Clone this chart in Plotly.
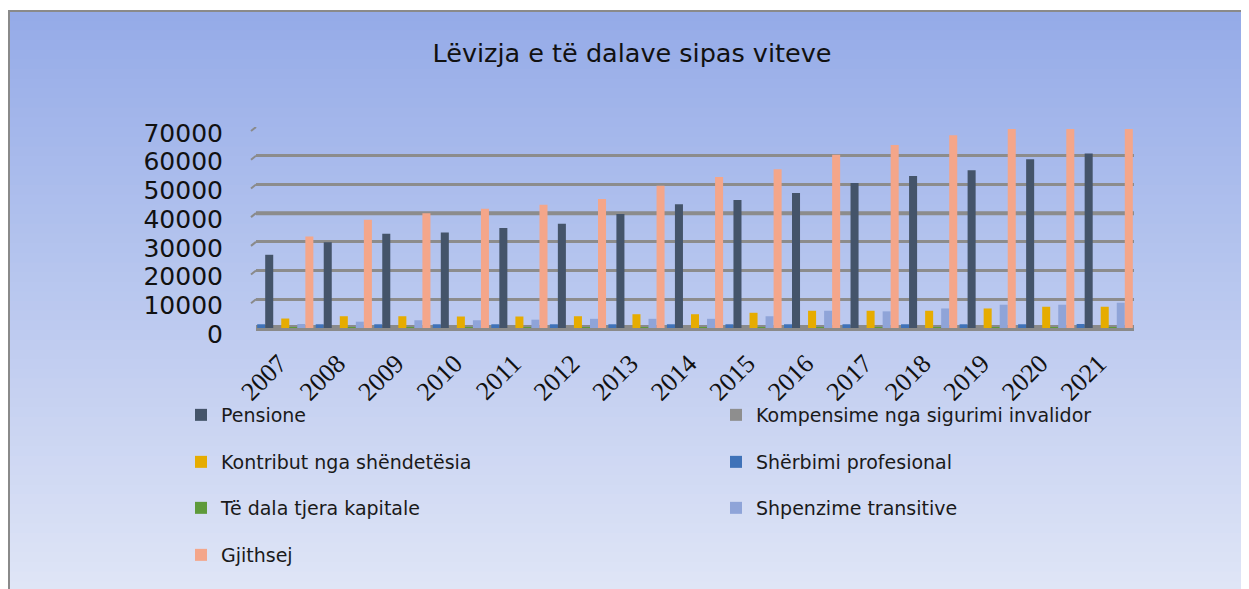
import plotly.graph_objects as go

years = ["2007", "2008", "2009", "2010", "2011", "2012", "2013", "2014",
         "2015", "2016", "2017", "2018", "2019", "2020", "2021"]

pensione = [25500, 29900, 32800, 33300, 34800, 36300, 39700, 43100,
            44600, 47000, 50500, 52900, 54900, 58800, 60800]
kompensime = [0, 0, 0, 0, 0, 0, 0, 0, 0, 0, 0, 0, 0, 0, 0]
kontribut = [3300, 4100, 4100, 4000, 4000, 4100, 4800, 4800,
             5300, 6000, 6000, 6000, 6800, 7400, 7400]
sherbimi = [1300, 1300, 1300, 1300, 1300, 1300, 1300, 1300,
            1300, 1300, 1300, 1300, 1300, 1300, 1400]
te_dala = [300, 300, 300, 300, 300, 300, 300, 300,
           300, 300, 300, 300, 300, 300, 300]
shpenzime = [1400, 2200, 2700, 2700, 2900, 3200, 3200, 3200,
             4100, 6000, 5800, 6800, 8100, 8100, 8800]
gjithsej = [31900, 37700, 40000, 41500, 42900, 44900, 49500, 52600,
            55300, 60300, 63700, 67100, 69300, 69300, 69300]

y_ticks = [0, 10000, 20000, 30000, 40000, 50000, 60000, 70000]

# (name, values, colour, legend rank) in bar drawing order
series = [
    ("Shërbimi profesional", sherbimi, "#3F72B8", 4),
    ("Pensione", pensione, "#44546A", 1),
    ("Kompensime nga sigurimi invalidor", kompensime, "#8E8E8E", 2),
    ("Kontribut nga shëndetësia", kontribut, "#E6AC00", 3),
    ("Të dala tjera kapitale", te_dala, "#5E9A3A", 5),
    ("Shpenzime transitive", shpenzime, "#8FA4D8", 6),
    ("Gjithsej", gjithsej, "#F4A68A", 7),
]

# figure geometry (pixels); page body adds an 8px offset on screen
W, H = 1260, 581
OFF = 8
L, T = 248, 119
PW, PH = 878, 201
R, B = W - L - PW, H - T - PH


def px2x(sx):
    return (sx - OFF - L) / PW


def py2y(sy):
    return (H - B - (sy - OFF)) / PH


legend_pos = {
    1: (181, 415), 2: (716, 415),
    3: (181, 462), 4: (716, 462),
    5: (181, 508), 6: (716, 508),
    7: (181, 555),
}

fig = go.Figure()
for name, vals, col, rank in series:
    lg = "legend" if rank == 1 else f"legend{rank}"
    fig.add_trace(go.Bar(
        x=years, y=vals, name=name,
        marker=dict(color=col, line=dict(width=0)),
        legend=lg, showlegend=True,
    ))

# background gradient and frame
shapes = []
n_bands = 60
top_c = (149, 171, 232)
bot_c = (223, 229, 246)
y_top, y_bot = 11, H + OFF + 2
for i in range(n_bands):
    t = i / (n_bands - 1)
    c = tuple(int(round(top_c[k] + (bot_c[k] - top_c[k]) * t)) for k in range(3))
    p0 = y_top + (y_bot - y_top) * i / n_bands
    p1 = y_top + (y_bot - y_top) * (i + 1) / n_bands + 1
    shapes.append(dict(type="rect", xref="paper", yref="paper",
                       x0=px2x(9), x1=px2x(W + OFF + 2), y0=py2y(p1), y1=py2y(p0),
                       fillcolor=f"rgb{c}", line=dict(width=0), layer="below"))
shapes.append(dict(type="line", xref="paper", yref="paper",
                   x0=px2x(8), x1=px2x(W + OFF + 2), y0=py2y(11), y1=py2y(11),
                   line=dict(color="#8A8A8A", width=2), layer="below"))
shapes.append(dict(type="line", xref="paper", yref="paper",
                   x0=px2x(9), x1=px2x(9), y0=py2y(11), y1=py2y(H + OFF + 2),
                   line=dict(color="#8A8A8A", width=2), layer="below"))
# emphasised 40000 gridline
shapes.append(dict(type="line", xref="paper", yref="y",
                   x0=0, x1=1, y0=40000, y1=40000,
                   line=dict(color="#8A8A8A", width=4), layer="below"))
# small perspective stubs at the left end of each gridline
stub_dy = 4 * 70000 / PH
for v in y_ticks[1:]:
    shapes.append(dict(type="line", xref="paper", yref="y",
                       x0=px2x(251), x1=0, y0=v - stub_dy, y1=v,
                       line=dict(color="#8A8A8A", width=2), layer="above"))

layout_legends = {}
for rank, (lx, ly) in legend_pos.items():
    key = "legend" if rank == 1 else f"legend{rank}"
    layout_legends[key] = dict(
        x=px2x(lx), y=py2y(ly), xanchor="left", yanchor="middle",
        bgcolor="rgba(0,0,0,0)", itemwidth=30,
        font=dict(family="DejaVu Sans", size=19, color="#1a1a1a"),
    )

fig.update_layout(
    width=W, height=H,
    margin=dict(l=L, r=R, t=T, b=B),
    paper_bgcolor="white",
    plot_bgcolor="rgba(0,0,0,0)",
    showlegend=True,
    barmode="group", bargap=0.04, bargroupgap=0,
    title=dict(text="Lëvizja e të dalave sipas viteve",
               x=px2x(632), xref="paper", xanchor="center",
               y=1 - (53 - OFF) / H, yanchor="middle",
               font=dict(family="DejaVu Sans", size=25.5, color="#111111")),
    shapes=shapes,
    xaxis=dict(
        tickangle=-45, showgrid=False, showline=False, ticks="",
        tickfont=dict(family="Liberation Serif", size=26, color="#111111"),
        ticklabelstandoff=14, ticklabelshift=-6,
    ),
    yaxis=dict(
        range=[0, 70000], tickvals=y_ticks, ticktext=[str(v) for v in y_ticks],
        showgrid=True, gridcolor="#8C8C8C", gridwidth=2.5,
        zeroline=True, zerolinecolor="#8A8A8A", zerolinewidth=6,
        showline=False, ticks="",
        tickfont=dict(family="DejaVu Sans", size=25, color="#111111"),
        ticklabelstandoff=32, ticklabelshift=6,
    ),
    **layout_legends,
)

fig.write_html("out.html",
               post_script="document.body.style.overflow='hidden';")
